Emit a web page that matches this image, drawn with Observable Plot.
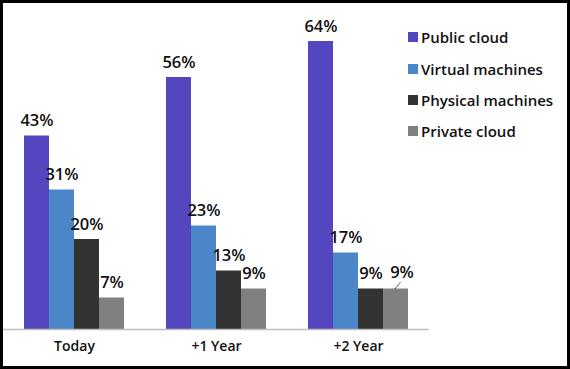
<!DOCTYPE html>
<html>
<head>
<meta charset="utf-8">
<script src="https://cdn.jsdelivr.net/npm/d3@7"></script>
<script src="https://cdn.jsdelivr.net/npm/@observablehq/plot@0.6"></script>
<style>
  html, body { margin: 0; padding: 0; background: #fff; }
  #wrap { position: relative; width: 570px; height: 369px; overflow: hidden; font-family: "Open Sans", sans-serif; }
  #wrap svg { position: absolute; left: 0; top: 0; }
  #border { position: absolute; left: 0; top: 0; width: 570px; height: 369px; box-sizing: border-box; border: 3px solid #000; pointer-events: none; }
  #legend { position: absolute; left: 408px; top: 0; }
  .li { position: absolute; left: 0; white-space: nowrap; display: flex; align-items: center; font-size: 15px; color: #111; font-weight: 600; }
  .sw { width: 10px; height: 10px; margin-right: 3px; display: inline-block; }
</style>
</head>
<body>
<div id="wrap"><div id="legend"></div><div id="border"></div></div>
<script>
const categories = ["Today", "+1 Year", "+2 Year"];
const series = ["Public cloud", "Virtual machines", "Physical machines", "Private cloud"];
const publicCloud = [43, 56, 64];
const virtualMachines = [31, 23, 17];
const physicalMachines = [20, 13, 9];
const privateCloud = [7, 9, 9];
const colors = ["#5446BF", "#4A86C8", "#333333", "#808080"];

const valuesBySeries = [publicCloud, virtualMachines, physicalMachines, privateCloud];
const data = [];
categories.forEach((c, i) => {
  series.forEach((s, j) => {
    data.push({category: c, series: s, value: valuesBySeries[j][i]});
  });
});
// the last label is pushed aside in the original, with a short leader line
const isLeader = d => d.category === "+2 Year" && d.series === "Private cloud";
const labelStyle = {x: "series", y: "value", text: d => d.value + "%", fontSize: 16.5, fontWeight: 600, fill: "#111"};

const chart = Plot.plot({
  width: 570,
  height: 369,
  marginLeft: 2,
  marginRight: 140,
  marginTop: 14,
  marginBottom: 40,
  style: {fontFamily: "Open Sans, sans-serif", background: "transparent"},
  fx: {domain: categories, padding: 0, label: null, axis: "bottom", tickSize: 0, tickPadding: 12},
  x: {domain: series, paddingInner: 0, paddingOuter: 0.74, axis: null},
  y: {domain: [0, 70], axis: null},
  color: {domain: series, range: colors},
  facet: {data, x: "category"},
  marks: [
    Plot.barY(data, {x: "series", y: "value", fill: "series"}),
    Plot.ruleY([0], {stroke: "#bfbfbf", strokeWidth: 1.5}),
    Plot.text(data, {...labelStyle, filter: d => !isLeader(d), dy: -15}),
    Plot.text(data, {...labelStyle, filter: isLeader, dy: -16, dx: 6}),
    Plot.text(data, {x: "series", y: "value", filter: isLeader, text: () => "|", rotate: 40, fontSize: 9, fill: "#333", dy: -4, dx: 2})
  ]
});
chart.querySelectorAll("g[aria-label='fx-axis tick label'] text, g[aria-label='fx-axis'] text").forEach(t => {
  t.setAttribute("font-size", "14");
  t.setAttribute("font-weight", "600");
  t.setAttribute("fill", "#111");
});
const wrap = document.getElementById("wrap");
wrap.insertBefore(chart, wrap.firstChild);

const legend = document.getElementById("legend");
const legendY = [37, 69, 100, 131];
series.forEach((s, i) => {
  const item = document.createElement("div");
  item.className = "li";
  item.style.top = (legendY[i] - 11) + "px";
  item.style.height = "22px";
  item.innerHTML = `<span class="sw" style="background:${colors[i]}"></span><span>${s}</span>`;
  legend.appendChild(item);
});
</script>
</body>
</html>
